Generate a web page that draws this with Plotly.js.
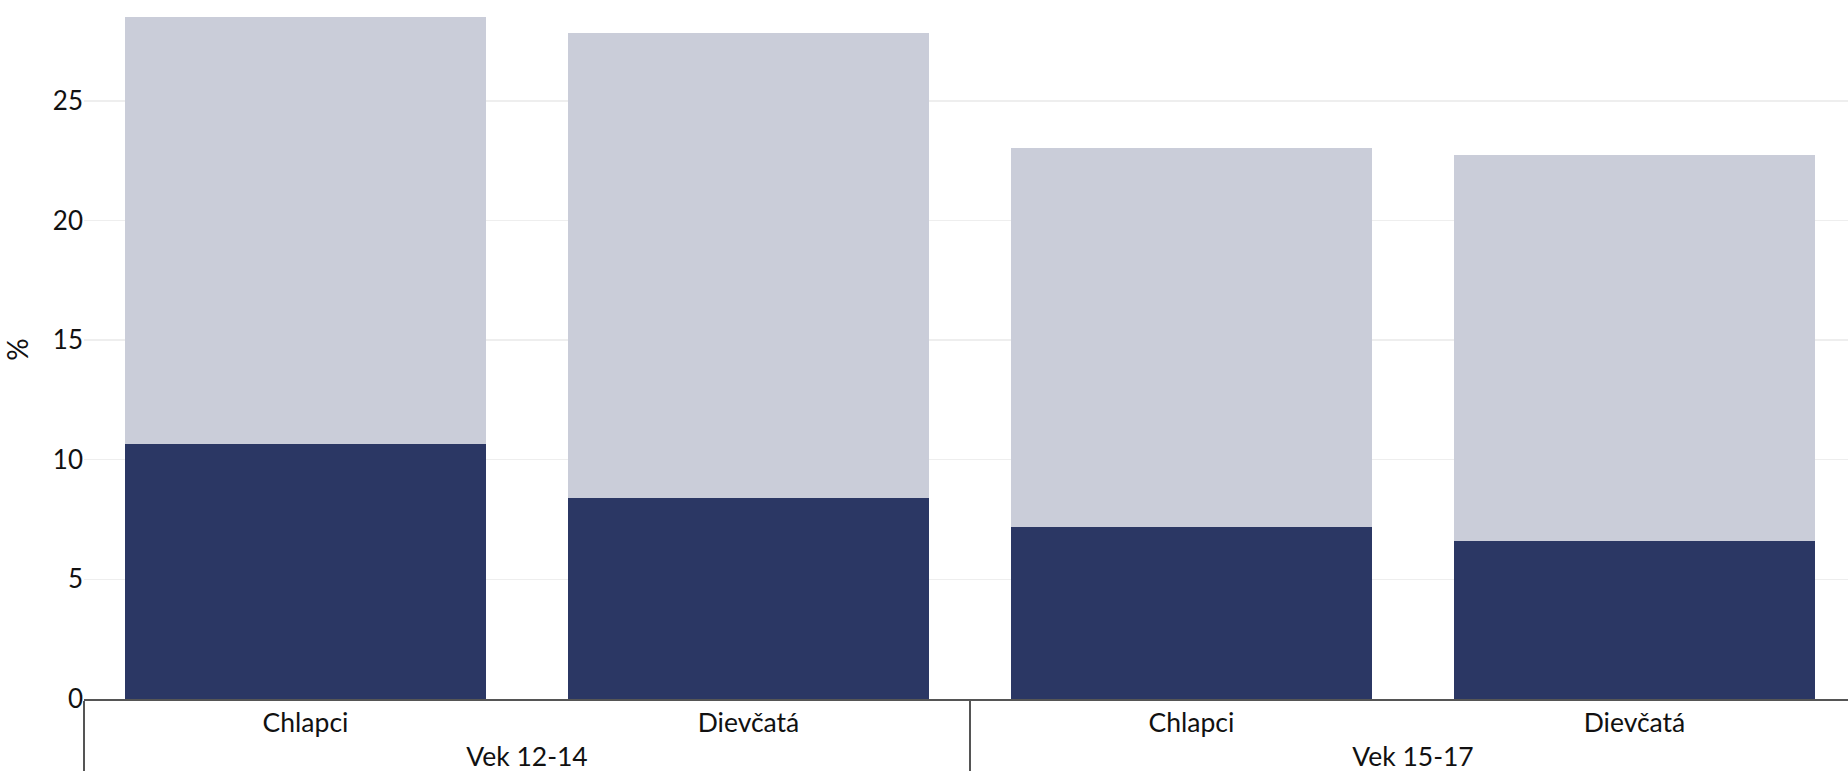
<!DOCTYPE html>
<html>
<head>
<meta charset="utf-8">
<script src="https://cdn.plot.ly/plotly-3.0.1.min.js"></script>
<style>
  html, body { margin: 0; padding: 0; background: #fff; }
  #chart { width: 1848px; height: 771px; }
</style>
</head>
<body>
<div id="chart"></div>
<script>
// Data
const ageGroups = ["Vek 12-14", "Vek 12-14", "Vek 15-17", "Vek 15-17"];
const genders = ["Chlapci", "Dievčatá", "Chlapci", "Dievčatá"];
const darkValues = [10.67, 8.39, 7.19, 6.59];
const lightValues = [17.83, 19.43, 15.82, 16.14];
const yTicks = [0, 5, 10, 15, 20, 25];

const xCats = [ageGroups, genders];

const traces = [
  {
    type: "bar",
    x: xCats,
    y: darkValues,
    marker: { color: "#2b3764", line: { width: 0 } },
    hoverinfo: "y",
    showlegend: false
  },
  {
    type: "bar",
    x: xCats,
    y: lightValues,
    marker: { color: "#cacdd9", line: { width: 0 } },
    hoverinfo: "y",
    showlegend: false
  }
];

const layout = {
  width: 1848,
  height: 771,
  barmode: "stack",
  bargap: 0.185,
  margin: { l: 84, r: 0, t: 0, b: 72, pad: 0 },
  paper_bgcolor: "#ffffff",
  plot_bgcolor: "#ffffff",
  font: { family: "Lato, 'Open Sans', sans-serif", size: 26, color: "#111111" },
  showlegend: false,
  xaxis: {
    type: "multicategory",
    range: [-0.5, 3.482],
    showline: true,
    linecolor: "#555555",
    linewidth: 1.5,
    showgrid: false,
    zeroline: false,
    ticks: "",
    showdividers: true,
    dividercolor: "#555555",
    dividerwidth: 1.5,
    tickfont: { size: 26.5, color: "#111111" },
    automargin: false
  },
  yaxis: {
    range: [0, 29.21],
    tickvals: yTicks,
    ticktext: yTicks.map(String),
    showline: false,
    showgrid: true,
    gridcolor: "#eeeeee",
    gridwidth: 1.5,
    zeroline: false,
    ticks: "",
    tickfont: { size: 26, color: "#111111" },
    title: { text: "%", font: { size: 28, color: "#111111" }, standoff: 16 },
    automargin: false
  }
};

Plotly.newPlot("chart", traces, layout, { displayModeBar: false, staticPlot: true });
</script>
</body>
</html>
